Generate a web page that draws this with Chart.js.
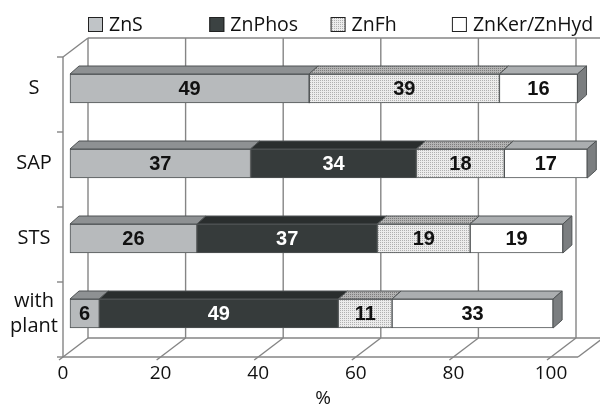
<!DOCTYPE html>
<html>
<head>
<meta charset="utf-8">
<script src="https://cdn.jsdelivr.net/npm/chart.js@4.4.1/dist/chart.umd.min.js"></script>
<style>
  html, body { margin: 0; padding: 0; background: #fff; }
  #wrap { width: 600px; height: 412px; }
</style>
</head>
<body>
<div id="wrap"><canvas id="chart" width="600" height="412"></canvas></div>
<script>
// data (percent of total Zn)
const categories = ['S', 'SAP', 'STS', ['with', 'plant']];
const seriesNames = ['ZnS', 'ZnPhos', 'ZnFh', 'ZnKer/ZnHyd'];
const znS = [49, 37, 26, 6];
const znPhos = [0, 34, 37, 49];
const znFh = [39, 18, 19, 11];
const znKerHyd = [16, 17, 19, 33];
const xTicks = [0, 20, 40, 60, 80, 100];
const xTitle = '%';

// fake 3D offsets, relative to the plane the bars sit in
const FRONT = { dx: -7, dy: 6 };
const BACK = { dx: 18, dy: -13 };
const BAR_DEPTH = { dx: 9, dy: -8 };
const EDGE = '#4f5354';
const GRID = '#858585';

function dotPattern(bg, dot) {
  const c = document.createElement('canvas');
  c.width = 2; c.height = 2;
  const g = c.getContext('2d');
  g.fillStyle = bg; g.fillRect(0, 0, 2, 2);
  g.fillStyle = dot; g.fillRect(0, 0, 1, 1);
  return g.createPattern(c, 'repeat');
}

const frontColors = ['#b7babc', '#363b3b', dotPattern('#ececec', '#b0b0b0'), '#ffffff'];
const topColors = ['#8e9193', '#2a2e2e', dotPattern('#b4b4b4', '#7c7c7c'), '#abaeb0'];
const sideColor = '#7b7e80';
const labelColors = ['#111', '#fff', '#111', '#111'];

const seriesValues = [znS, znPhos, znFh, znKerHyd];

const box3d = {
  id: 'box3d',
  beforeDatasetsDraw(chart) {
    const { ctx, chartArea: a, scales: { x } } = chart;
    const line = (x1, y1, x2, y2) => { ctx.beginPath(); ctx.moveTo(x1, y1); ctx.lineTo(x2, y2); ctx.stroke(); };
    ctx.save();
    ctx.strokeStyle = GRID;
    ctx.lineWidth = 1.4;
    const topB = a.top + BACK.dy, botB = a.bottom + BACK.dy;
    const topF = a.top + FRONT.dy, botF = a.bottom + FRONT.dy;
    xTicks.forEach(v => {
      const px = x.getPixelForValue(v);
      line(px + BACK.dx, topB, px + BACK.dx, botB);
      line(px + FRONT.dx, botF, px + BACK.dx, botB);
      line(px + FRONT.dx, botF, px + FRONT.dx - 4, botF + 3);
    });
    const x0 = x.getPixelForValue(0);
    const xR = x.getPixelForValue(100) + BACK.dx;
    line(x0 + BACK.dx, topB, chart.width, topB);
    line(x0 + BACK.dx, botB, chart.width, botB);
    line(x0 + FRONT.dx, topF, x0 + FRONT.dx, botF);
    line(x0 + FRONT.dx, topF, x0 + BACK.dx, topB);
    line(x0 + FRONT.dx, botF, xR + 2, botF);
    line(xR + 2, botF, xR + 27, botB);
    // category ticks on the front axis
    const step = (a.bottom - a.top) / categories.length;
    for (let k = 0; k <= categories.length; k++) {
      const yy = a.top + k * step + FRONT.dy;
      line(x0 + FRONT.dx - 6, yy, x0 + FRONT.dx, yy);
    }
    ctx.restore();
  },
  afterDatasetsDraw(chart) {
    const { ctx } = chart;
    ctx.save();
    ctx.lineWidth = 1;
    ctx.strokeStyle = EDGE;
    const rowEnd = {};
    chart.data.datasets.forEach((ds, i) => {
      chart.getDatasetMeta(i).data.forEach((el, j) => {
        const p = el.getProps(['x', 'y', 'base', 'height'], true);
        const l = Math.min(p.x, p.base), r = Math.max(p.x, p.base);
        if (r - l < 0.5) return;
        const t = p.y - p.height / 2;
        ctx.beginPath();
        ctx.moveTo(l, t);
        ctx.lineTo(l + BAR_DEPTH.dx, t + BAR_DEPTH.dy);
        ctx.lineTo(r + BAR_DEPTH.dx, t + BAR_DEPTH.dy);
        ctx.lineTo(r, t);
        ctx.closePath();
        ctx.fillStyle = topColors[i];
        ctx.fill();
        ctx.stroke();
        if (!rowEnd[j] || r > rowEnd[j].r) rowEnd[j] = { r, t, b: p.y + p.height / 2 };
      });
    });
    Object.values(rowEnd).forEach(e => {
      ctx.beginPath();
      ctx.moveTo(e.r, e.t);
      ctx.lineTo(e.r + BAR_DEPTH.dx, e.t + BAR_DEPTH.dy);
      ctx.lineTo(e.r + BAR_DEPTH.dx, e.b + BAR_DEPTH.dy);
      ctx.lineTo(e.r, e.b);
      ctx.closePath();
      ctx.fillStyle = sideColor;
      ctx.fill();
      ctx.stroke();
    });
    // value labels
    ctx.font = 'bold 20px "Liberation Sans", Arial, sans-serif';
    ctx.textAlign = 'center';
    ctx.textBaseline = 'middle';
    chart.data.datasets.forEach((ds, i) => {
      chart.getDatasetMeta(i).data.forEach((el, j) => {
        const v = ds.data[j];
        if (!v) return;
        const p = el.getProps(['x', 'y', 'base'], true);
        ctx.fillStyle = labelColors[i];
        ctx.fillText(String(v), (p.x + p.base) / 2, p.y + 1);
      });
    });
    ctx.restore();
  },
  afterDraw(chart) {
    const { ctx, chartArea: a, scales: { x, y } } = chart;
    ctx.save();
    ctx.fillStyle = '#111';
    ctx.textBaseline = 'middle';
    ctx.textAlign = 'center';
    // x tick labels on the front edge
    ctx.font = '19px "Open Sans", sans-serif';
    xTicks.forEach(v => {
      ctx.fillText(String(v), x.getPixelForValue(v) + FRONT.dx, a.bottom + FRONT.dy + 17);
    });
    ctx.fillText(xTitle, 323, a.bottom + FRONT.dy + 42);
    // category labels
    ctx.font = '20px "Open Sans", sans-serif';
    categories.forEach((c, i) => {
      const cy = y.getPixelForValue(i);
      const lines = Array.isArray(c) ? c : [c];
      lines.forEach((s, k) => {
        ctx.fillText(s, 34, cy + (k - (lines.length - 1) / 2) * 25);
      });
    });
    // legend
    ctx.textAlign = 'left';
    ctx.font = '19.5px "Open Sans", sans-serif';
    seriesNames.forEach((name, i) => {
      const bx = 88 + i * 121.3;
      ctx.fillStyle = frontColors[i];
      if (i === 0) ctx.fillStyle = '#c0c4c7';
      if (i === 1) ctx.fillStyle = '#3b4242';
      ctx.fillRect(bx, 17, 15, 15);
      ctx.strokeStyle = '#222';
      ctx.lineWidth = 1;
      ctx.strokeRect(bx + 0.5, 17.5, 14, 14);
      ctx.fillStyle = '#111';
      ctx.fillText(name, bx + 21, 25);
    });
    ctx.restore();
  }
};

new Chart(document.getElementById('chart'), {
  type: 'bar',
  data: {
    labels: categories,
    datasets: seriesValues.map((vals, i) => ({
      label: seriesNames[i],
      data: vals,
      backgroundColor: frontColors[i],
      borderColor: EDGE,
      borderWidth: ctx => (ctx.raw ? 1 : 0),
      borderSkipped: false,
      barThickness: 29,
      clip: false
    }))
  },
  options: {
    indexAxis: 'y',
    responsive: false,
    animation: false,
    layout: { padding: { left: 70, right: 42, top: 51, bottom: 61 } },
    plugins: { legend: { display: false }, tooltip: { enabled: false } },
    scales: {
      x: { stacked: true, min: 0, max: 100, display: false },
      y: { stacked: true, display: false }
    }
  },
  plugins: [box3d]
});
</script>
</body>
</html>
